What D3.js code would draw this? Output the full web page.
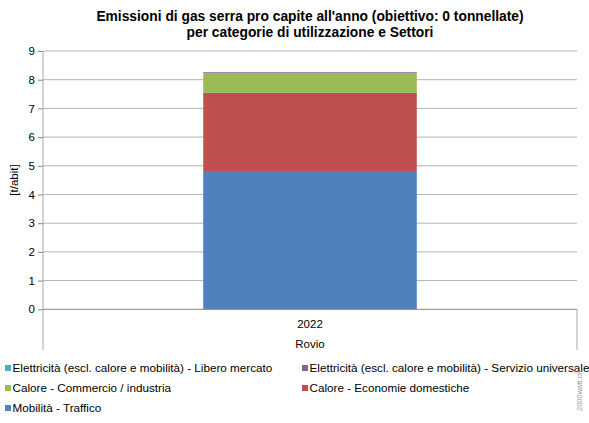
<!DOCTYPE html>
<html><head><meta charset="utf-8">
<script src="https://cdn.jsdelivr.net/npm/d3@7"></script>
<style>body{margin:0;background:#fff;} text{font-family:"Liberation Sans",Arial,sans-serif;}</style>
</head><body><svg id="c" width="589" height="423"></svg>
<script>
const categories = ["2022"];
const groupLabel = "Rovio";
const seriesNames = [
  "Mobilità - Traffico",
  "Calore - Economie domestiche",
  "Calore - Commercio / industria",
  "Elettricità (escl. calore e mobilità) - Servizio universale",
  "Elettricità (escl. calore e mobilità) - Libero mercato"
];
const seriesColors = ["#4F81BD", "#C0504D", "#9BBB59", "#8064A2", "#4BACC6"];
const mobilita = [4.82];
const caloreDomestiche = [2.72];
const caloreCommercio = [0.69];
const elettricitaUniversale = [0.03];
const elettricitaLibero = [0.0];
const yTicks = [0,1,2,3,4,5,6,7,8,9];
const legendOrder = [4, 3, 2, 1, 0];

const seriesValues = [mobilita, caloreDomestiche, caloreCommercio, elettricitaUniversale, elettricitaLibero];
const svg = d3.select("#c");
const L = 43, R = 577, T = 51, B = 309.3;

const y = d3.scaleLinear().domain([0, 9]).range([B, T]);
const x = d3.scaleBand().domain(categories).range([L, R]).paddingInner(0.4286).paddingOuter(0.4286);

// gridlines
svg.append("g").selectAll("line").data(yTicks.filter(d => d > 0)).join("line")
  .attr("x1", L).attr("x2", R).attr("y1", d => y(d)).attr("y2", d => y(d))
  .attr("stroke", "#B3B3B3").attr("stroke-width", 1);

// bars
const table = categories.map((c, i) => {
  const o = {cat: c};
  seriesNames.forEach((s, j) => o[s] = seriesValues[j][i]);
  return o;
});
const stack = d3.stack().keys(seriesNames)(table);
svg.append("g").selectAll("g").data(stack).join("g")
  .attr("fill", (d, i) => seriesColors[i])
  .selectAll("rect").data(d => d).join("rect")
  .attr("x", d => x(d.data.cat))
  .attr("width", x.bandwidth())
  .attr("y", d => y(d[1]))
  .attr("height", d => Math.max(0, y(d[0]) - y(d[1])));

// y axis
const yAxis = d3.axisLeft(y).tickValues(yTicks).tickSize(5).tickPadding(3).tickFormat(d3.format("d"));
const ga = svg.append("g").attr("transform", `translate(${L},0)`).call(yAxis);
ga.select(".domain").remove();
ga.selectAll(".tick line").attr("stroke", "#868686");
ga.selectAll(".tick text").attr("font-size", 11.5).attr("fill", "#000").attr("font-family", "Liberation Sans, Arial, sans-serif");
svg.append("line").attr("x1", L).attr("x2", L).attr("y1", T).attr("y2", 350).attr("stroke", "#A6A6A6");

// x axis baseline and group separators
svg.append("line").attr("x1", L).attr("x2", R).attr("y1", B).attr("y2", B).attr("stroke", "#868686");
svg.append("line").attr("x1", R).attr("x2", R).attr("y1", B).attr("y2", 350).attr("stroke", "#A6A6A6");

svg.append("g").selectAll("text").data(categories).join("text")
  .attr("x", d => x(d) + x.bandwidth() / 2).attr("y", 328)
  .attr("text-anchor", "middle").attr("font-size", 11.5).text(d => d);
svg.append("text").attr("x", (L + R) / 2).attr("y", 348)
  .attr("text-anchor", "middle").attr("font-size", 11.5).text(groupLabel);

// y label
svg.append("text").attr("transform", "translate(18,180) rotate(-90)")
  .attr("text-anchor", "middle").attr("font-size", 11.5).text("[t/abit]");

// title
svg.append("text").attr("x", 310).attr("y", 21).attr("text-anchor", "middle")
  .attr("font-size", 13.8).attr("font-weight", "bold").text("Emissioni di gas serra pro capite all'anno (obiettivo: 0 tonnellate)");
svg.append("text").attr("x", 310).attr("y", 37).attr("text-anchor", "middle")
  .attr("font-size", 13.8).attr("font-weight", "bold").text("per categorie di utilizzazione e Settori");

// legend
const legPos = [[5, 372], [302, 372], [5, 392], [302, 392], [5, 412]];
const lg = svg.append("g").selectAll("g").data(legendOrder).join("g")
  .attr("transform", (d, i) => `translate(${legPos[i][0]},${legPos[i][1]})`);
lg.append("rect").attr("x", 0).attr("y", -7).attr("width", 6).attr("height", 6).attr("fill", d => seriesColors[d]);
lg.append("text").attr("x", 7.5).attr("y", 0).attr("font-size", 11.7).text(d => seriesNames[d]);

// watermark
svg.append("text").attr("transform", "translate(582,411) rotate(-90)")
  .attr("font-size", 7.5).attr("fill", "#999").text("2000watt.ch");
</script></body></html>
